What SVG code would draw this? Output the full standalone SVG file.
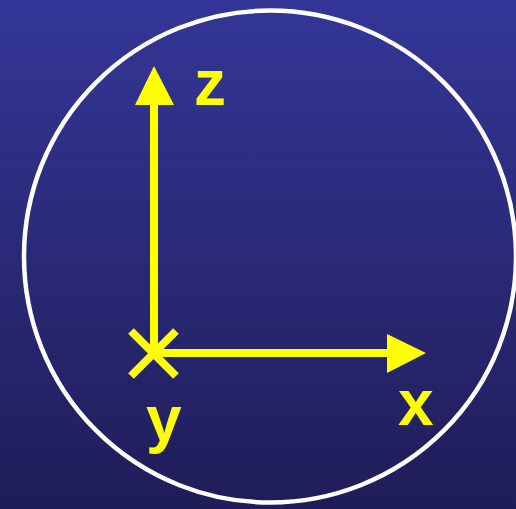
<svg xmlns="http://www.w3.org/2000/svg" width="516" height="509" viewBox="0 0 516 509">
<defs>
<linearGradient id="bg" x1="0" y1="0" x2="0" y2="1">
<stop offset="0" stop-color="#343697"/>
<stop offset="1" stop-color="#1f1d58"/>
</linearGradient>
<style>
.ax{stroke:#ffff00;stroke-width:8;fill:none}
.head{fill:#ffff00}
.lbl{font-family:"Liberation Sans",Arial,sans-serif;font-weight:bold;font-size:64px;fill:#ffff00}
</style>
</defs>
<rect width="516" height="509" fill="url(#bg)"/>
<circle cx="270" cy="256.5" r="246" fill="none" stroke="#ffffff" stroke-width="4.5"/>
<g id="connectors">
<line class="ax" x1="154" y1="353" x2="154" y2="103"/>
<polygon class="head" points="154,66 135,105 174,105"/>
<line class="ax" x1="153" y1="353" x2="389" y2="353"/>
<polygon class="head" points="426,353 387,334 387,373"/>
</g>
<g id="y-axis">
<line class="ax" x1="131" y1="331" x2="176" y2="376"/>
<line class="ax" x1="176" y1="331" x2="131" y2="376"/>
</g>
<g id="label-z"><text class="lbl" x="194" y="105">z</text></g>
<g id="label-x"><text class="lbl" x="398" y="425">x</text></g>
<g id="label-y"><text class="lbl" x="146" y="441">y</text></g>
</svg>
